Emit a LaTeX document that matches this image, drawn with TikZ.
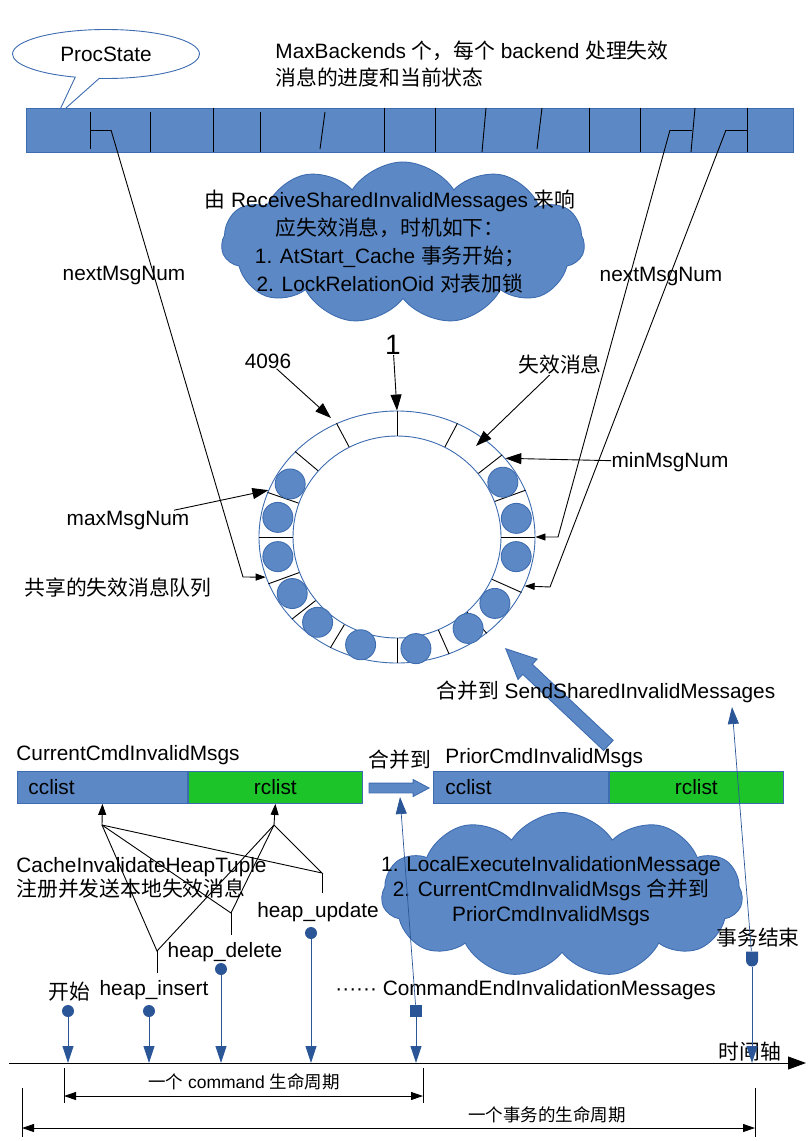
\documentclass[tikz,border=0pt]{standalone}
\usepackage{fontspec}
\setmainfont{Liberation Sans}
\newfontfamily\cjk{Noto Sans CJK SC}
\usetikzlibrary{arrows.meta,calc,shapes.geometric,shapes.symbols,shapes.callouts,shapes.arrows,shapes.misc}
\definecolor{fillblue}{RGB}{92,137,197}
\definecolor{lineblue}{RGB}{62,108,176}
\definecolor{darkblue}{RGB}{42,86,152}
\definecolor{listgreen}{RGB}{28,196,42}
\begin{document}
\begin{tikzpicture}[x=1pt,y=-1pt,line width=0.9pt,
    font=\fontsize{20.8}{25}\selectfont,
    lbl/.style={inner sep=0pt},
    bigtip/.style={-{Triangle[length=16pt,width=11pt]}},
    smalltip/.style={-{Triangle[length=10pt,width=7pt]}},
    uptip/.style={-{Triangle[length=11pt,width=8pt]}},
    tline/.style={darkblue,-{Triangle[length=17pt,width=11pt]}},
    span/.style={{Triangle[length=12pt,width=8pt]}-{Triangle[length=12pt,width=8pt]}},
    dot/.style={circle,fill=darkblue,inner sep=0pt,minimum size=12pt},
    msg/.style={circle,draw=lineblue,fill=fillblue,inner sep=0pt,minimum size=30pt},
    listbox/.style={draw=lineblue,anchor=north west,minimum height=32pt,inner sep=0pt},
    puff/.style={cloud,cloud puffs=11,cloud puff arc=115,cloud ignores aspect,draw=lineblue,fill=fillblue}]
\useasboundingbox (0,0) rectangle (807,1141);

\node[ellipse callout,draw=lineblue,fill=white,minimum width=187pt,minimum height=49pt,inner sep=0pt,
      callout absolute pointer={(57,116)}] (procstate) at (106,54) {ProcState};
\node[lbl,anchor=west,align=left,font=\fontsize{20.8}{27}\selectfont] (backends) at (275,64)
    {MaxBackends {\cjk 个，每个} backend {\cjk 处理失效}\\{\cjk 消息的进度和当前状态}};

\node[draw=lineblue,fill=fillblue,anchor=north west,minimum width=767pt,minimum height=44pt,inner sep=0pt] (procbar) at (26,108) {};
\foreach \xa/\ya/\xb/\yb in {90/112/90/149,150/112/150/152,213/108/213/152,260/112/260/152,
    325/112/320/149,384/108/384/152,435/108/435/152,486/108/482/152,542/108/537/149,
    589/108/589/152,640/108/640/152,695/108/691/152,747/108/747/152}
  \draw (\xa,\ya) -- (\xb,\yb);
\draw (90,130) -- (111,130) (670,130) -- (692,130) (726,130) -- (747,130);
\coordinate (slot1) at (111,130);
\coordinate (slot2) at (670,130);
\coordinate (slot3) at (726,130);

\node[puff,minimum width=363pt,minimum height=162pt] (recvcloud) at (403,243) {};
\node[lbl,align=center,font=\fontsize{20.8}{28}\selectfont] (recvtext) at (390,242)
    {{\cjk 由} ReceiveSharedInvalidMessages {\cjk 来响}\\{\cjk 应失效消息，时机如下：}\\
     1. AtStart\_Cache {\cjk 事务开始；}\\2. LockRelationOid {\cjk 对表加锁}};

\node[lbl] (nextl) at (124,275) {nextMsgNum};
\node[lbl] (nextr) at (661,276) {nextMsgNum};

\coordinate (ringc) at (397,537);
\node[ellipse,draw=lineblue,fill=white,minimum width=276pt,minimum height=252pt,inner sep=0pt] (ringout) at (ringc) {};
\node[ellipse,draw=lineblue,fill=white,minimum width=208pt,minimum height=202pt,inner sep=0pt] (ringin) at (ringc) {};
\foreach \a in {0,20,38,62,90,118,140,161,180,200,218,239,270,294,313,336}
  \draw (ringin.\a) -- (ringout.\a);
\foreach \a [count=\i] in {29,9.5,350,324,306,279,252.5,229,210,190,170,152}
  \node[msg] (m\i) at ($(ringc)+(\a:121pt and 113pt)$) {};

\node[lbl,font=\fontsize{28}{30}\selectfont] (one) at (393,345) {1};
\node[lbl] (n4096) at (268,361) {4096};
\node[lbl] (invalid) at (560,365) {\cjk 失效消息};
\node[lbl] (minmsg) at (670,462) {minMsgNum};
\node[lbl] (maxmsg) at (128,520) {maxMsgNum};
\node[lbl] (queue) at (118,588) {\cjk 共享的失效消息队列};
\coordinate (p4096) at (331,418);
\coordinate (pinvalid) at (476,446);

\path [bigtip] (one) edge (ringout.north);
\path [bigtip] (n4096) edge (p4096);
\path [bigtip] (invalid) edge (pinvalid);
\path [bigtip] (minmsg) edge (ringout.36);
\path [bigtip] (maxmsg) edge (ringout.160);
\draw[smalltip] (slot1) -- (243,577) -- (ringout.197);
\draw[smalltip] (slot2) -- (558,537) -- (ringout.0);
\draw[smalltip] (slot3) -- (550,587) -- (ringout.339);

\node[single arrow,draw=lineblue,fill=fillblue,minimum height=141pt,inner sep=6.5pt,single arrow head extend=7pt,
      single arrow tip angle=50,rotate=136.7,anchor=tip] (tobuffer) at (505,648) {};
\node[lbl,anchor=west] (sendshared) at (436,692) {{\cjk 合并到} SendSharedInvalidMessages};

\node[lbl,anchor=west] (curname) at (16,755) {CurrentCmdInvalidMsgs};
\node[listbox,fill=fillblue,minimum width=170pt,text width=148pt,align=left] (curcc) at (17,771) {cclist};
\node[listbox,fill=listgreen,minimum width=174pt] (currc) at (curcc.north east) {rclist};
\node[lbl,anchor=west] (mergelbl) at (368,760) {\cjk 合并到};
\node[single arrow,draw=lineblue,fill=fillblue,minimum height=60pt,inner sep=4.5pt,single arrow head extend=3.5pt,
      single arrow tip angle=56,anchor=tip] (mergearrow) at (430,788) {};
\node[lbl,anchor=west] (priorname) at (445,758) {PriorCmdInvalidMsgs};
\node[listbox,fill=fillblue,minimum width=175pt,text width=151pt,align=left] (priorcc) at (433,771) {cclist};
\node[listbox,fill=listgreen,minimum width=174pt] (priorrc) at (priorcc.north east) {rclist};

\node[puff,minimum width=361pt,minimum height=165pt] (localcloud) at (562,895) {};
\node[lbl,align=center] (localtext) at (551,891)
    {1. LocalExecuteInvalidationMessage\\2. CurrentCmdInvalidMsgs {\cjk 合并到}\\PriorCmdInvalidMsgs};

\coordinate (ccfoot) at (102,825);
\coordinate (rcfoot) at (274,825);
\coordinate (insj) at (157,951);
\coordinate (delj) at (231,913);
\coordinate (updj) at (322,873);
\path [uptip] (ccfoot) edge (curcc.south) (rcfoot) edge (currc.south);
\foreach \j in {insj,delj,updj}
  \draw (ccfoot) -- (\j) -- (rcfoot);
\draw (insj) -- ++(0,22) (delj) -- ++(0,22) (updj) -- ++(0,20);

\node[lbl,anchor=west,align=left,font=\fontsize{20.8}{24}\selectfont] (tuple) at (16,878)
    {CacheInvalidateHeapTuple\\{\cjk 注册并发送本地失效消息}};
\node[lbl] (hupdate) at (318,912) {heap\_update};
\node[lbl] (hdelete) at (225,952) {heap\_delete};
\node[lbl] (hinsert) at (154,990) {heap\_insert};
\node[lbl] (hstart) at (69,992) {\cjk 开始};
\node[lbl,anchor=west] (cmdend) at (335,990) {······ CommandEndInvalidationMessages};
\node[lbl] (txend) at (758,938) {\cjk 事务结束};

\coordinate (t0) at (9,1063);
\coordinate (t1) at (806,1063);
\draw[-{Triangle[length=18pt,width=13pt]}] (t0) -- (t1);
\node[lbl] (axis) at (750,1052) {\cjk 时间轴};

\node[dot] (dstart) at (68,1011) {};
\node[dot] (dinsert) at (149,1011) {};
\node[dot] (ddelete) at (221,969) {};
\node[dot] (dupdate) at (311,933) {};
\node[rectangle,fill=darkblue,minimum size=12pt,inner sep=0pt] (dcmdend) at (416,1011) {};
\node[rounded rectangle,rounded rectangle east arc=none,rotate=90,fill=darkblue,minimum width=15pt,
      minimum height=12pt,inner sep=0pt] (dtxend) at (752,959) {};
\foreach \d in {dstart,dinsert,ddelete,dupdate,dcmdend,dtxend}
  \draw[tline] (\d) -- (\d |- t0);
\coordinate (mergefoot) at (400,797);
\coordinate (sendfoot) at (732,707);
\draw[tline,line width=0.7pt] (dcmdend) -- (mergefoot);
\draw[tline,line width=0.7pt] (dtxend) -- (sendfoot);

\coordinate (cmdl) at (64,1096);
\coordinate (cmdr) at (423,1096);
\draw (64,1068) -- (64,1103) (423,1068) -- (423,1103);
\draw[span] (cmdl) -- (cmdr);
\node[lbl,font=\fontsize{17.5}{20}\selectfont] (cmdlife) at (244,1082) {{\cjk 一个} command {\cjk 生命周期}};
\coordinate (txl) at (22,1128);
\coordinate (txr) at (755,1128);
\draw (22,1088) -- (22,1137) (755,1088) -- (755,1137);
\draw[span] (txl) -- (txr);
\node[lbl,font=\fontsize{17.5}{20}\selectfont] (txlife) at (547,1115) {\cjk 一个事务的生命周期};
\end{tikzpicture}
\end{document}
